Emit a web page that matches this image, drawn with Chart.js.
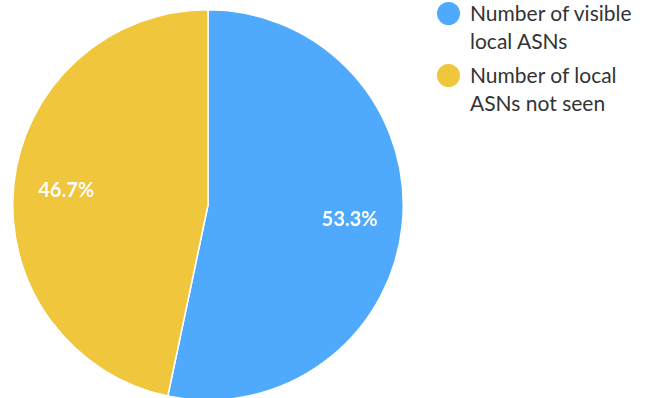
<!DOCTYPE html>
<html>
<head>
<meta charset="utf-8">
<script src="https://cdn.jsdelivr.net/npm/chart.js@4/dist/chart.umd.min.js"></script>
<style>
    body { margin: 0; background: #fff; overflow: hidden; }
    #wrap { position: relative; width: 648px; height: 398px; overflow: hidden; }
    #chartBox { position: absolute; left: 0; top: 0; width: 416px; height: 401px; }
    #legend { position: absolute; left: 437px; top: -1px; font-family: Lato, sans-serif; font-size: 21px; color: #333; }
    .item { position: relative; padding-left: 33px; line-height: 28px; margin-bottom: 6px; }
    .dot { position: absolute; left: 0; top: 3px; width: 23px; height: 23px; border-radius: 50%; }
</style>
</head>
<body>
<div id="wrap">
    <div id="chartBox"><canvas id="pieChart"></canvas></div>
    <div id="legend"></div>
</div>
<script>
// chart data
const labels = ['Number of visible local ASNs', 'Number of local ASNs not seen'];
const legendLines = [['Number of visible', 'local ASNs'], ['Number of local', 'ASNs not seen']];
const values = [53.3, 46.7];
const colors = ['#4fa9fc', '#f0c63d'];

// draws the percentage inside each slice
const percentLabels = {
    id: 'percentLabels',
    afterDatasetsDraw(chart) {
        const ctx = chart.ctx;
        const meta = chart.getDatasetMeta(0);
        const total = values.reduce((a, b) => a + b, 0);
        ctx.save();
        ctx.font = 'bold 20px Lato, sans-serif';
        ctx.fillStyle = '#fff';
        ctx.textAlign = 'center';
        ctx.textBaseline = 'middle';
        meta.data.forEach((arc, i) => {
            const mid = (arc.startAngle + arc.endAngle) / 2;
            const r = arc.outerRadius * 0.73;
            const x = arc.x + Math.cos(mid) * r;
            const y = arc.y + Math.sin(mid) * r;
            ctx.fillText((values[i] / total * 100).toFixed(1) + '%', x, y);
        });
        ctx.restore();
    }
};

new Chart(document.getElementById('pieChart'), {
    type: 'pie',
    data: {
        labels: labels,
        datasets: [{
            data: values,
            backgroundColor: colors,
            borderColor: '#fff',
            borderWidth: 1.5
        }]
    },
    options: {
        responsive: true,
        maintainAspectRatio: false,
        animation: false,
        layout: { padding: { top: 9, bottom: 0, left: 0, right: 0 } },
        plugins: {
            legend: { display: false },
            tooltip: { enabled: false }
        }
    },
    plugins: [percentLabels]
});

// html legend
const legendEl = document.getElementById('legend');
legendLines.forEach((lines, i) => {
    const item = document.createElement('div');
    item.className = 'item';
    item.innerHTML = '<span class="dot" style="background:' + colors[i] + '"></span>' + lines.join('<br>');
    legendEl.appendChild(item);
});
</script>
</body>
</html>
